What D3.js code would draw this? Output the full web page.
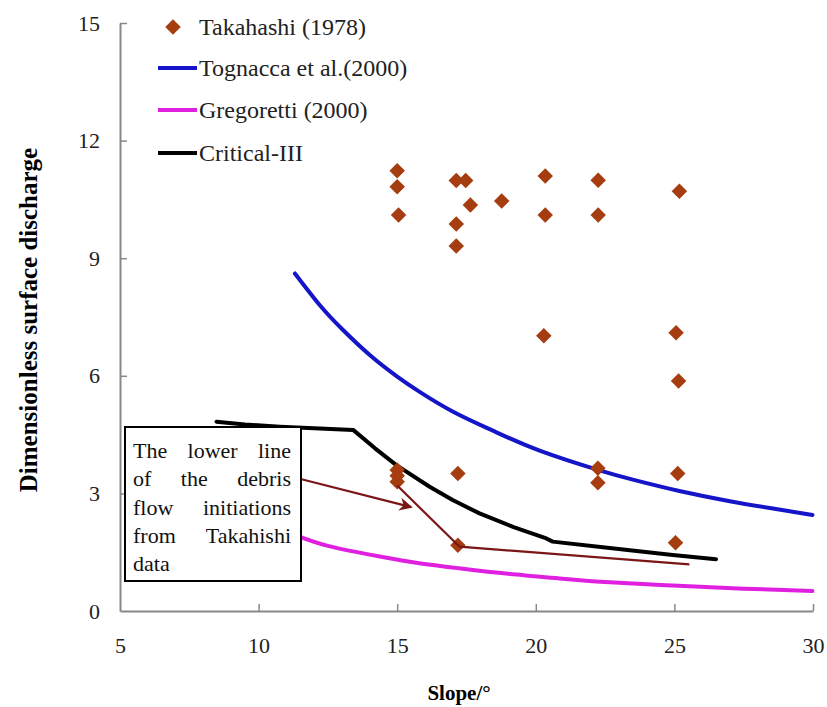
<!DOCTYPE html>
<html>
<head>
<meta charset="utf-8">
<script src="https://cdn.jsdelivr.net/npm/d3@7"></script>
<style>
body { margin: 0; background: #fff; }
text { font-family: "Liberation Serif", "Times New Roman", serif; }
</style>
</head>
<body>
<div id="chart"></div>
<script>
// data
var takahashiX = [15.0, 15.0, 15.05, 17.13, 17.47, 17.64, 17.13, 17.13, 18.77, 20.34, 20.34, 20.29,
                  22.25, 22.25, 25.18, 25.06, 25.15, 15.0, 15.0, 15.0, 17.19, 22.24, 22.24, 25.12, 17.19, 25.04];
var takahashiY = [11.23, 10.82, 10.10, 10.98, 10.98, 10.36, 9.87, 9.31, 10.46, 11.10, 10.10, 7.02,
                  10.99, 10.10, 10.71, 7.10, 5.87, 3.60, 3.45, 3.30, 3.51, 3.64, 3.27, 3.51, 1.68, 1.74];

var tognaccaX = [11.31, 12.21, 13.0, 14.01, 15.0, 15.81, 17.0, 18.45, 20.14, 22.24, 23.5, 25.18, 27.0, 28.5, 29.98];
var tognaccaY = [8.61, 7.80, 7.20, 6.53, 5.98, 5.59, 5.09, 4.60, 4.09, 3.60, 3.35, 3.06, 2.80, 2.62, 2.45];

var gregorettiX = [11.31, 12.5, 14.37, 15.8, 17.25, 19.0, 20.86, 22.5, 24.94, 27.5, 29.98];
var gregorettiY = [1.94, 1.66, 1.39, 1.22, 1.09, 0.95, 0.83, 0.74, 0.65, 0.57, 0.51];

var criticalX = [8.48, 9.5, 10.77, 12.0, 13.41, 14.2, 14.97, 16.17, 17.0, 17.97, 19.2, 20.38, 20.61, 22.5, 24.94, 26.5];
var criticalY = [4.83, 4.76, 4.70, 4.66, 4.62, 4.15, 3.72, 3.17, 2.83, 2.49, 2.14, 1.85, 1.77, 1.62, 1.43, 1.32];

// annotation lines
var lowerLineX = [15.0, 17.25, 25.54];
var lowerLineY = [3.2, 1.64, 1.19];
var arrowX = [11.55, 15.51];
var arrowY = [3.36, 2.65];

var xTicks = [5, 10, 15, 20, 25, 30];
var yTicks = [0, 3, 6, 9, 12, 15];
var legendNames = ["Takahashi (1978)", "Tognacca et al.(2000)", "Gregoretti (2000)", "Critical-III"];
var noteLines = ["The lower line", "of the debris", "flow initiations", "from Takahishi", "data"];

var width = 827, height = 707;
var brown = "#a63d10", blue = "#1414c8", pink = "#e020e0", arrowColor = "#7a1616";

var svg = d3.select("#chart").append("svg")
    .attr("width", width)
    .attr("height", height);

var x = d3.scaleLinear().domain([5, 30]).range([120, 813]);
var y = d3.scaleLinear().domain([0, 15]).range([611, 23]);

// axes
var xAxis = svg.append("g").attr("transform", "translate(0,611)")
    .call(d3.axisBottom(x).tickValues(xTicks).tickSize(-7).tickSizeOuter(0).tickPadding(26));
var yAxis = svg.append("g").attr("transform", "translate(120,0)")
    .call(d3.axisLeft(y).tickValues(yTicks).tickSize(-7).tickSizeOuter(0).tickPadding(20));

[xAxis, yAxis].forEach(function(ax){
    ax.select(".domain").attr("stroke", "#888").attr("stroke-width", 2);
    ax.selectAll(".tick line").attr("stroke", "#888").attr("stroke-width", 1.5);
    ax.selectAll(".tick text").attr("fill", "#222").style("font-size", "22px")
      .style("font-family", "Liberation Serif, Times New Roman, serif");
});
yAxis.select(".tick:first-of-type line").remove();
xAxis.select(".tick:first-of-type line").remove();

// axis titles
svg.append("text")
    .attr("x", 459).attr("y", 700)
    .attr("text-anchor", "middle")
    .style("font-size", "21px").style("font-weight", "bold")
    .text("Slope/\u00b0");

svg.append("text")
    .attr("transform", "translate(37,320) rotate(-90)")
    .attr("text-anchor", "middle")
    .style("font-size", "25px").style("font-weight", "bold")
    .text("Dimensionless surface discharge");

// curves
function pairs(xs, ys) { return xs.map(function(v, i){ return [v, ys[i]]; }); }

var smooth = d3.line().x(function(d){ return x(d[0]); }).y(function(d){ return y(d[1]); })
    .curve(d3.curveNatural);
var straight = d3.line().x(function(d){ return x(d[0]); }).y(function(d){ return y(d[1]); });

svg.append("path").datum(pairs(gregorettiX, gregorettiY))
    .attr("d", smooth).attr("fill", "none").attr("stroke", pink).attr("stroke-width", 4)
    .attr("stroke-linecap", "round");
svg.append("path").datum(pairs(tognaccaX, tognaccaY))
    .attr("d", smooth).attr("fill", "none").attr("stroke", blue).attr("stroke-width", 4)
    .attr("stroke-linecap", "round");
svg.append("path").datum(pairs(criticalX, criticalY))
    .attr("d", straight)
    .attr("fill", "none").attr("stroke", "#000").attr("stroke-width", 4)
    .attr("stroke-linecap", "round").attr("stroke-linejoin", "round");

// diamonds
var diamond = d3.symbol().type(d3.symbolSquare).size(120);
svg.append("g").selectAll("path")
    .data(pairs(takahashiX, takahashiY))
    .enter().append("path")
    .attr("d", diamond)
    .attr("transform", function(d){ return "translate(" + x(d[0]) + "," + y(d[1]) + ") rotate(45)"; })
    .attr("fill", brown);

// annotation
svg.append("defs").append("marker")
    .attr("id", "head").attr("viewBox", "0 0 10 10")
    .attr("refX", 9).attr("refY", 5)
    .attr("markerWidth", 6).attr("markerHeight", 6)
    .attr("orient", "auto")
    .append("path").attr("d", "M0,0 L10,5 L0,10 L3,5 z").attr("fill", arrowColor);

svg.append("path").datum(pairs(lowerLineX, lowerLineY))
    .attr("d", straight)
    .attr("fill", "none").attr("stroke", arrowColor).attr("stroke-width", 2.2);

svg.append("path").datum(pairs(arrowX, arrowY))
    .attr("d", straight)
    .attr("fill", "none").attr("stroke", arrowColor).attr("stroke-width", 2.2)
    .attr("marker-end", "url(#head)");

svg.append("rect")
    .attr("x", 125).attr("y", 427).attr("width", 176).attr("height", 154)
    .attr("fill", "#fff").attr("stroke", "#000").attr("stroke-width", 2);

// justified text inside the box
var noteG = svg.append("g");
noteLines.forEach(function(txt, i){
    var words = txt.split(" ");
    var by = 458 + i * 28.3;
    var nodes = words.map(function(w){
        return noteG.append("text").attr("y", by).style("font-size", "22px").attr("fill", "#111").text(w);
    });
    if (words.length == 1 || i == noteLines.length - 1) {
        nodes[0].attr("x", 133);
        return;
    }
    var widths = nodes.map(function(n){ return n.node().getComputedTextLength(); });
    var total = d3.sum(widths);
    var gap = (291 - 133 - total) / (words.length - 1);
    var cx = 133;
    nodes.forEach(function(n, j){
        n.attr("x", cx);
        cx += widths[j] + gap;
    });
});

// legend
var legend = svg.append("g");
legend.append("path").attr("d", diamond)
    .attr("transform", "translate(173,27) rotate(45)").attr("fill", brown);
var legendColors = [null, blue, pink, "#000"];
var legendY = [27, 68, 110, 153];
legendNames.forEach(function(name, i){
    if (legendColors[i]) {
        legend.append("line")
            .attr("x1", 158).attr("x2", 197)
            .attr("y1", legendY[i]).attr("y2", legendY[i])
            .attr("stroke", legendColors[i]).attr("stroke-width", 4);
    }
    legend.append("text")
        .attr("x", 199).attr("y", legendY[i] + 8)
        .style("font-size", "24px").attr("fill", "#222")
        .text(name);
});
</script>
</body>
</html>
